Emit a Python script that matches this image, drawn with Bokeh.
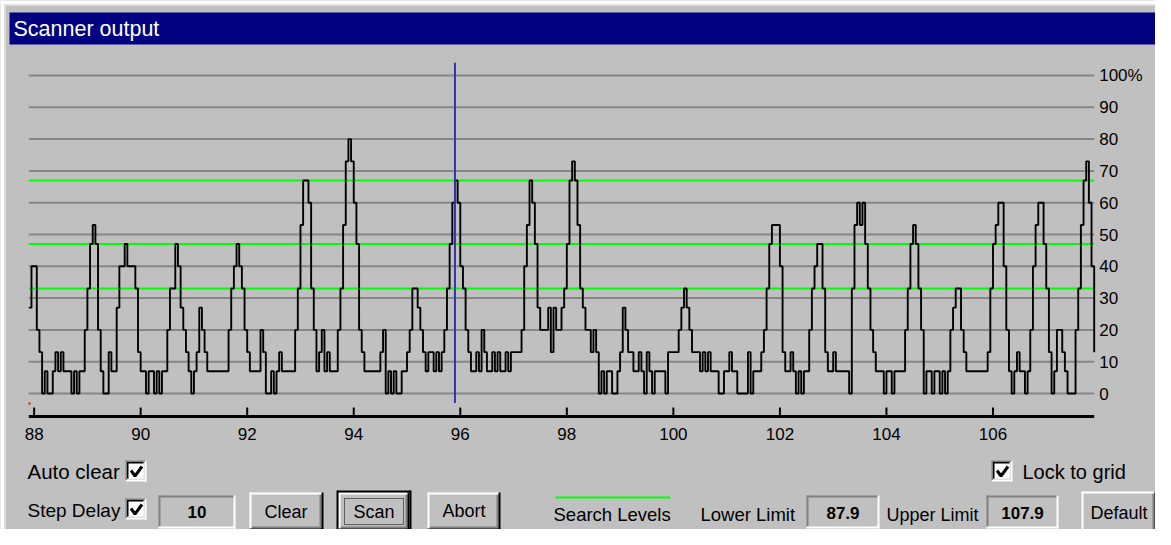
from bokeh.plotting import figure
from bokeh.models import Range1d
from bokeh.core.properties import value
from bokeh.embed import file_html
from bokeh.resources import INLINE

# ---------------- data ----------------
title_text = "Scanner output"
lower_limit = 87.9
upper_limit = 107.9
freq_step = 0.05
freq_ticks = [88, 90, 92, 94, 96, 98, 100, 102, 104, 106]
freq_tick_labels = ["88", "90", "92", "94", "96", "98", "100", "102", "104", "106"]
level_ticks = [0, 10, 20, 30, 40, 50, 60, 70, 80, 90, 100]
level_labels = ["0", "10", "20", "30", "40", "50", "60", "70", "80", "90", "100%"]
search_levels = [33, 47, 67]
cursor_freq = 95.9
step_delay_text = "10"
lower_limit_text = "87.9"
upper_limit_text = "107.9"

# signal strength (%) every 0.05 MHz from 87.9 to 107.9
signal = [
    27, 40, 40, 20, 13, 0, 7, 0, 0, 7, 13, 7, 13, 7, 7, 7, 0, 7, 0, 7,
    7, 20, 33, 47, 53, 47, 20, 7, 0, 0, 13, 7, 7, 27, 40, 40, 47, 40, 40, 40,
    33, 13, 7, 7, 0, 7, 7, 0, 7, 0, 7, 7, 20, 33, 33, 47, 40, 27, 20, 13,
    7, 0, 7, 13, 27, 20, 13, 7, 7, 7, 7, 7, 7, 7, 7, 20, 33, 40, 47, 40,
    33, 20, 13, 7, 7, 7, 7, 20, 13, 0, 0, 7, 0, 7, 13, 7, 7, 7, 7, 7,
    20, 33, 53, 67, 67, 60, 33, 20, 7, 13, 20, 7, 13, 7, 7, 7, 20, 33, 53, 73,
    80, 73, 60, 47, 20, 13, 7, 7, 7, 7, 7, 7, 13, 20, 0, 7, 0, 7, 0, 0,
    7, 7, 13, 20, 33, 33, 27, 20, 13, 7, 13, 13, 7, 13, 7, 13, 20, 33, 47, 60,
    67, 60, 40, 33, 20, 13, 7, 7, 13, 7, 20, 13, 7, 7, 13, 7, 13, 7, 7, 13,
    7, 13, 13, 13, 13, 20, 40, 53, 67, 60, 47, 27, 20, 20, 20, 27, 13, 27, 20, 20,
    27, 33, 47, 67, 73, 67, 53, 33, 27, 20, 20, 13, 20, 13, 0, 7, 0, 7, 7, 0,
    0, 7, 13, 27, 20, 13, 13, 7, 7, 13, 7, 0, 13, 7, 0, 7, 7, 7, 7, 0,
    13, 13, 13, 13, 20, 27, 33, 27, 20, 13, 13, 13, 7, 13, 7, 13, 7, 7, 7, 0,
    0, 7, 7, 13, 7, 7, 0, 0, 0, 0, 13, 0, 7, 7, 7, 13, 20, 33, 47, 53,
    53, 53, 40, 13, 7, 7, 13, 7, 0, 7, 0, 7, 7, 20, 33, 40, 47, 47, 33, 13,
    7, 7, 13, 7, 7, 7, 7, 7, 0, 33, 53, 60, 53, 60, 47, 33, 20, 13, 7, 7,
    7, 0, 7, 7, 0, 7, 7, 7, 7, 20, 33, 47, 53, 47, 33, 20, 0, 7, 7, 0,
    7, 7, 0, 7, 0, 7, 20, 27, 33, 33, 20, 13, 7, 7, 7, 7, 7, 7, 7, 7,
    13, 33, 47, 53, 60, 60, 40, 20, 7, 0, 7, 13, 7, 7, 0, 7, 20, 40, 53, 60,
    60, 47, 33, 13, 0, 7, 20, 20, 13, 7, 0, 0, 0, 20, 33, 53, 67, 73, 60, 40,
    13,
]
freqs = [lower_limit + freq_step * i for i in range(len(signal))]

# ---------------- geometry ----------------
W, H = 1155, 529
OFF = 0
X0 = 28.3      # screen x of lower limit
PXM = 53.27    # px per MHz
Y0 = 393.0     # screen y of 0 %
PXP = 3.18     # px per %

FONT = value("Liberation Sans")
BG = "#C0C0C0"
DARK = "#808080"

p = figure(
    width=W, height=H, title=None,
    x_range=Range1d(lower_limit + (OFF - X0) / PXM, lower_limit + (OFF + W - X0) / PXM),
    y_range=Range1d((Y0 - (OFF + H)) / PXP, (Y0 - OFF) / PXP),
    output_backend="svg", toolbar_location=None,
    x_axis_type=None, y_axis_type=None, min_border=0,
    background_fill_color=BG, border_fill_color=BG, outline_line_color=None,
)
p.grid.visible = False
p.extra_x_ranges = {"px": Range1d(OFF, OFF + W)}
p.extra_y_ranges = {"py": Range1d(OFF + H, OFF)}
PX = dict(x_range_name="px", y_range_name="py")

# ---------------- window frame & title bar ----------------
p.quad(left=[0], right=[3.5], top=[0], bottom=[OFF + H], fill_color="white", line_color=None, **PX)
p.quad(left=[0], right=[OFF + W], top=[0], bottom=[4], fill_color="white", line_color=None, **PX)
p.segment(x0=[4.5, 4.5], y0=[4.5, 4.5], x1=[4.5, OFF + W], y1=[OFF + H, 4.5],
          line_color="#E4E4E4", line_width=1.5, **PX)
p.quad(left=[9], right=[1166], top=[12], bottom=[44], fill_color="#000080", line_color=None, **PX)
p.text(x=[13], y=[28.5], text=[title_text], text_color="white", text_font=FONT,
       text_font_size="21.5px", text_baseline="middle", text_align="left", **PX)

# ---------------- plot area ----------------
n = len(level_ticks)
p.segment(x0=[lower_limit] * n, x1=[upper_limit] * n, y0=level_ticks, y1=level_ticks,
          line_color="#868686", line_width=2)
m = len(search_levels)
p.segment(x0=[lower_limit] * m, x1=[upper_limit] * m, y0=search_levels, y1=search_levels,
          line_color="#00FF00", line_width=2)
p.step(x=freqs, y=signal, mode="after", line_color="black", line_width=1.9)
p.segment(x0=[cursor_freq], x1=[cursor_freq], y0=[-3], y1=[104], line_color="#3434A8", line_width=2)

# right level labels
p.text(x=[upper_limit] * n, y=level_ticks, text=level_labels, x_offset=5,
       text_font=FONT, text_font_size="17px", text_color="black",
       text_align="left", text_baseline="middle")

# frequency axis (x in MHz, y in screen pixels)
k = len(freq_ticks)
p.segment(x0=[lower_limit], x1=[upper_limit], y0=[416], y1=[416], line_color="black",
          line_width=3, y_range_name="py")
p.segment(x0=freq_ticks, x1=freq_ticks, y0=[407] * k, y1=[416] * k, line_color="black",
          line_width=2, y_range_name="py")
p.text(x=freq_ticks, y=[433] * k, text=freq_tick_labels, y_range_name="py",
       text_font=FONT, text_font_size="17px", text_color="black",
       text_align="center", text_baseline="middle")
p.rect(x=[29], y=[403], width=2, height=2, fill_color="red", line_color=None, **PX)

# ---------------- controls ----------------
segs = {}


def seg(color, w, x0, y0, x1, y1):
    d = segs.setdefault((color, w), ([], [], [], []))
    d[0].append(x0); d[1].append(y0); d[2].append(x1); d[3].append(y1)


def button(x0, y0, x1, y1):
    seg("white", 2, x0, y0 + 1, x1 - 1, y0 + 1)
    seg("white", 2, x0 + 1, y0, x0 + 1, y1 - 1)
    seg(DARK, 2, x0 + 2, y1 - 3, x1 - 2, y1 - 3)
    seg(DARK, 2, x1 - 3, y0 + 2, x1 - 3, y1 - 2)
    seg("black", 2, x0, y1 - 1, x1, y1 - 1)
    seg("black", 2, x1 - 1, y0, x1 - 1, y1)


def sunken(x0, y0, x1, y1):
    seg(DARK, 2, x0, y0 + 1, x1 - 1, y0 + 1)
    seg(DARK, 2, x0 + 1, y0, x0 + 1, y1 - 1)
    seg("white", 2, x0, y1 - 1, x1, y1 - 1)
    seg("white", 2, x1 - 1, y0, x1 - 1, y1)


checks = []


def checkbox(x0, y0, s=21):
    p.quad(left=[x0 + 2], right=[x0 + s - 2], top=[y0 + 2], bottom=[y0 + s - 2],
           fill_color="white", line_color=None, **PX)
    seg(DARK, 1.5, x0, y0 + 0.75, x0 + s, y0 + 0.75)
    seg(DARK, 1.5, x0 + 0.75, y0, x0 + 0.75, y0 + s)
    seg("black", 1.5, x0 + 1.5, y0 + 2.25, x0 + s - 1.5, y0 + 2.25)
    seg("black", 1.5, x0 + 2.25, y0 + 1.5, x0 + 2.25, y0 + s - 1.5)
    seg("white", 1.5, x0, y0 + s - 0.75, x0 + s, y0 + s - 0.75)
    seg("white", 1.5, x0 + s - 0.75, y0, x0 + s - 0.75, y0 + s)
    seg("#DFDFDF", 1.5, x0 + 1.5, y0 + s - 2.25, x0 + s - 1.5, y0 + s - 2.25)
    seg("#DFDFDF", 1.5, x0 + s - 2.25, y0 + 1.5, x0 + s - 2.25, y0 + s - 1.5)
    checks.append(([x0 + 5.5, x0 + 9.5, x0 + 16.5], [y0 + 10, y0 + 15.5, y0 + 6]))


def label(x, y, txt, size="19px", align="left", bold=False):
    p.text(x=[x], y=[y], text=[txt], text_font=FONT, text_font_size=size,
           text_color="black", text_align=align, text_baseline="middle",
           text_font_style="bold" if bold else "normal", **PX)


# left controls
label(27, 471, "Auto clear", "20.5px")
checkbox(125, 460)
label(27, 510, "Step Delay", "19px")
checkbox(125, 498)
sunken(158, 495, 235, 528)
label(196.5, 511.5, step_delay_text, "17px", "center", True)

button(249, 492, 323, 530)
label(285.5, 511, "Clear", "18px", "center")

# Scan (default button with focus)
seg("black", 2, 337, 491, 410, 491)
seg("black", 2, 337, 531, 410, 531)
seg("black", 2, 337, 490, 337, 532)
seg("black", 2, 410, 490, 410, 532)
button(338, 492, 409, 530)
p.quad(left=[344], right=[403], top=[498], bottom=[524], fill_color=None,
       line_color="black", line_width=1, line_dash="1 1", **PX)
label(373.5, 511, "Scan", "18px", "center")

button(427, 492, 500, 530)
label(463.5, 510.5, "Abort", "18px", "center")

# search levels legend
seg("#00FF00", 2, 555, 497, 670, 497)
label(553, 514, "Search Levels", "18.5px")

# limits
label(700, 514, "Lower Limit", "18.5px")
sunken(806, 495, 879, 528)
label(842.5, 512, lower_limit_text, "17px", "center", True)
label(886, 514, "Upper Limit", "18px")
sunken(986, 495, 1058, 528)
label(1022, 512, upper_limit_text, "17px", "center", True)

button(1081, 491, 1156, 533)
label(1118.5, 512, "Default", "18px", "center")

checkbox(991, 460)
label(1022, 471, "Lock to grid", "20px")

for (color, w), (a, b, c, d) in segs.items():
    p.segment(x0=a, y0=b, x1=c, y1=d, line_color=color, line_width=w, **PX)

p.multi_line(xs=[c[0] for c in checks], ys=[c[1] for c in checks], line_color="black",
             line_width=3, **PX)

open("out.html", "w").write(file_html(p, INLINE))
